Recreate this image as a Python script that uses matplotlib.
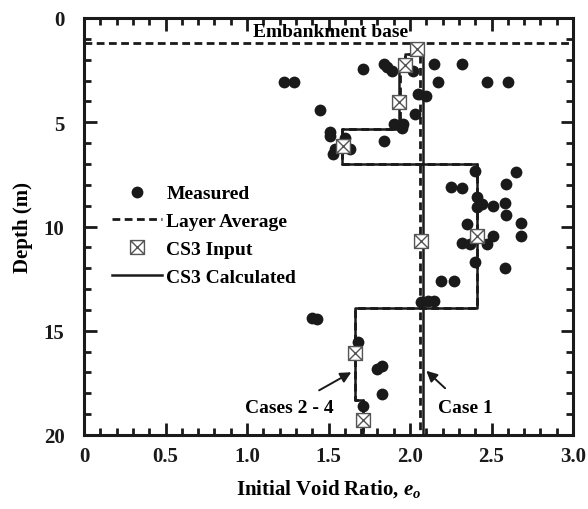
import matplotlib
matplotlib.use('Agg')
import matplotlib.pyplot as plt
import numpy as np
from matplotlib.path import Path
from matplotlib.ticker import MultipleLocator, FuncFormatter

plt.rcParams['font.family'] = ['Liberation Serif', 'DejaVu Serif']
plt.rcParams['font.weight'] = 'bold'
plt.rcParams['axes.labelweight'] = 'bold'
plt.rcParams['mathtext.fontset'] = 'custom'
plt.rcParams['mathtext.it'] = 'Liberation Serif:italic:bold'
plt.rcParams['mathtext.bfit'] = 'Liberation Serif:italic:bold'
plt.rcParams['mathtext.rm'] = 'Liberation Serif:bold'

# measured void ratio vs depth
meas_e = [1.71, 1.84, 1.86, 1.89, 2.02, 2.15, 2.32, 1.23, 1.29, 2.17, 2.47, 2.60,
          2.05, 2.10, 1.45, 2.03, 1.90, 1.96, 1.95, 1.51, 1.51, 1.84, 1.54, 1.53,
          1.60, 1.63, 2.40, 2.65, 2.59, 2.25, 2.32, 2.41, 2.44, 2.41, 2.51, 2.58,
          2.59, 2.68, 2.68, 2.35, 2.51, 2.32, 2.37, 2.47, 2.40, 2.58, 2.19, 2.27,
          2.07, 2.11, 2.15, 1.40, 1.43, 1.68, 1.80, 1.83, 1.83, 1.71]
meas_z = [2.45, 2.20, 2.35, 2.53, 2.53, 2.20, 2.20, 3.08, 3.05, 3.08, 3.08, 3.08,
          3.64, 3.73, 4.40, 4.60, 5.10, 5.10, 5.27, 5.45, 5.65, 5.90, 6.30, 6.50,
          5.75, 6.30, 7.32, 7.40, 7.96, 8.09, 8.17, 8.57, 8.92, 9.08, 9.03, 8.89,
          9.45, 9.85, 10.44, 9.88, 10.44, 10.79, 10.84, 10.84, 11.72, 11.99, 12.60, 12.60,
          13.60, 13.56, 13.56, 14.40, 14.44, 15.56, 16.83, 16.67, 18.03, 18.62]

# CS3 input points
cs3_e = [2.04, 1.97, 1.93, 1.59, 2.07, 2.41, 1.66, 1.71]
cs3_z = [1.49, 2.24, 4.01, 6.12, 10.71, 10.44, 16.08, 19.27]

# layer profiles, cases 2-4 (depth boundaries and values per layer)
layer_z = [1.2, 1.75, 2.5, 5.3, 7.0, 13.9, 18.3, 20.0]
avg_e = [2.04, 1.97, 1.94, 1.58, 2.41, 1.66, 1.71]
calc_e = [2.04, 1.97, 1.93, 1.58, 2.41, 1.66, 1.71]

# case 1: single value
case1_avg = 2.06
case1_calc = 2.08
case1_z = [1.2, 20.0]

embank_z = 1.2

dark = '#1a1a1a'
dash = (0, (2.8, 1.6))

box_x = Path([(-1, -1), (1, -1), (1, 1), (-1, 1), (-1, -1), (-1, -1), (1, 1), (-1, 1), (1, -1)],
             [Path.MOVETO, Path.LINETO, Path.LINETO, Path.LINETO, Path.CLOSEPOLY,
              Path.MOVETO, Path.LINETO, Path.MOVETO, Path.LINETO])

fig = plt.figure(figsize=(5.88, 5.10), dpi=100)
ax = fig.add_axes([84 / 588, 1 - 436 / 510, 489 / 588, 417 / 510])


def profile(vals, zs):
    return np.repeat(vals, 2), np.repeat(zs, 2)[1:-1]


ax.axhline(embank_z, color=dark, lw=2, ls=dash, zorder=2)

px, pz = profile(avg_e, layer_z)
ax.plot(px, pz, color=dark, lw=2, ls=dash, zorder=2, label='Layer Average')
ax.plot([case1_avg, case1_avg], case1_z, color=dark, lw=2, ls=dash, zorder=2)
px, pz = profile(calc_e, layer_z)
ax.plot(px, pz, color=dark, lw=1.8, zorder=2.1, label='CS3 Calculated')
ax.plot([case1_calc, case1_calc], case1_z, color=dark, lw=1.8, zorder=2.1)

ax.plot(meas_e, meas_z, 'o', color=dark, ms=8.5, mec='none', zorder=3, label='Measured')
ax.plot(cs3_e, cs3_z, ls='none', marker=box_x, ms=10, mfc='white', mec='#555555',
        mew=1.0, zorder=4, label='CS3 Input')

ax.text(1.515, 0.67, 'Embankment base', ha='center', va='center', fontsize=14)
ax.annotate('Cases 2 - 4', xy=(1.64, 16.99), xytext=(1.26, 18.66), ha='center', va='center',
            fontsize=14, arrowprops=dict(arrowstyle='-|>', color=dark, lw=1.4,
                                         mutation_scale=16, shrinkA=8, shrinkB=0))
ax.annotate('Case 1', xy=(2.10, 16.92), xytext=(2.34, 18.66), ha='center', va='center',
            fontsize=14, arrowprops=dict(arrowstyle='-|>', color=dark, lw=1.4,
                                         mutation_scale=16, shrinkA=8, shrinkB=0))

ax.set_xlim(0, 3.0)
ax.set_ylim(20, 0)
ax.xaxis.set_major_locator(MultipleLocator(0.5))
ax.xaxis.set_minor_locator(MultipleLocator(0.1))
ax.yaxis.set_major_locator(MultipleLocator(5))
ax.yaxis.set_minor_locator(MultipleLocator(1))
ax.xaxis.set_major_formatter(FuncFormatter(lambda v, p: '0' if v == 0 else '%.1f' % v))
ax.tick_params(which='both', direction='in', top=True, right=True, width=2, colors=dark)
ax.tick_params(which='major', length=9, labelsize=15)
ax.tick_params(which='minor', length=5)
ax.tick_params(axis='x', which='major', pad=8)
ax.tick_params(axis='y', which='major', pad=14)
for s in ax.spines.values():
    s.set_linewidth(2.2)
    s.set_color(dark)

ax.set_xlabel(r'Initial Void Ratio, $\mathbfit{e}_\mathbfit{o}$', fontsize=15, labelpad=8)
ax.set_ylabel('Depth (m)', fontsize=15, labelpad=8)

h, l = ax.get_legend_handles_labels()
order = [l.index(k) for k in ['Measured', 'Layer Average', 'CS3 Input', 'CS3 Calculated']]
ax.legend([h[i] for i in order], [l[i] for i in order], loc='upper left',
          bbox_to_anchor=(0.057, 0.60), frameon=False, fontsize=14, handlelength=2.6,
          handletextpad=0.2, labelspacing=0.52, borderpad=0, borderaxespad=0)

plt.savefig('out.png', dpi=100)
